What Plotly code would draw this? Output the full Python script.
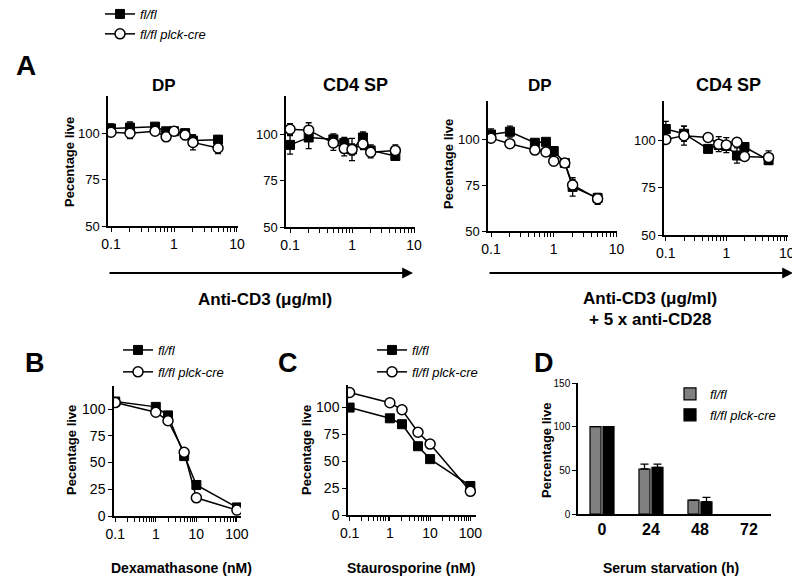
import plotly.graph_objects as go

W, H = 800, 576
FONT = "Liberation Sans, Arial, Helvetica, sans-serif"

# ---------------- data ----------------
a_dose = [0.1, 0.2, 0.5, 0.75, 1, 1.5, 2, 5]

a1_flfl = [102.5, 103, 103.5, 101, 101, 100, 96, 96.5]
a1_flfl_err = [2.5, 3, 1.5, 2, 1.5, 2, 3, 2]
a1_cre = [100.5, 100, 101, 98, 101, 99, 95, 92]
a1_cre_err = [1.5, 3, 1.5, 1.5, 1.5, 2.5, 4, 3]

a2_flfl = [94.5, 98.5, 97.5, 95.5, 92, 98.5, 91.5, 88.5]
a2_flfl_err = [5, 6, 3, 3, 3, 3, 3, 2]
a2_cre = [103, 102.5, 95.5, 92.5, 92, 95, 90.5, 91.5]
a2_cre_err = [3, 4, 4, 4, 6, 3, 3, 3]

a3_flfl = [102.5, 104, 98, 98.5, 93.5, 87, 74, 68]
a3_flfl_err = [3, 3, 1, 1, 1, 1, 5, 2]
a3_cre = [100.5, 97.5, 94, 93, 88, 87, 75, 67.5]
a3_cre_err = [1, 1, 1, 1, 1, 1.5, 3, 3]

a4_flfl = [106, 103.5, 95.5, 97.5, 97, 92, 96.5, 89.5]
a4_flfl_err = [4, 4, 2, 2, 2, 4, 2, 2]
a4_cre = [100.5, 102.5, 101.5, 98, 97.5, 99, 91.5, 91]
a4_cre_err = [2, 5, 1, 4, 4, 1.5, 1, 3.5]

b_dose = [0.1, 1, 2, 5, 10, 100]
b_flfl = [107, 102, 94, 56, 29, 8]
b_flfl_err = [2, 2, 3, 2, 3, 1]
b_cre = [106, 97, 89, 59.5, 17, 5.5]
b_cre_err = [1, 1, 1, 2, 1, 1]

c_dose = [0.1, 1, 2, 5, 10, 100]
c_flfl = [100, 90, 84.5, 64, 52, 27]
c_cre = [114, 104.5, 98, 77, 66, 22]

d_hours = ["0", "24", "48", "72"]
d_flfl = [100, 51.5, 16, 0]
d_flfl_err = [None, 5.5, None, None]
d_cre = [100, 53.5, 14, 0]
d_cre_err = [None, 3.5, 5, None]

series_names = ["fl/fl", "fl/fl plck-cre"]

# ---------------- helpers ----------------
def dx(p0, p1):
    return [p0 / W, p1 / W]

def dy(top, bottom):
    return [1 - bottom / H, 1 - top / H]

def px(x):
    return x / W

def py(y):
    return 1 - y / H

fig = go.Figure()

def add_pair(xs, y1, e1, y2, e2, ax, legend=None, show=False):
    xa = "x" if ax == 1 else f"x{ax}"
    ya = "y" if ax == 1 else f"y{ax}"
    fig.add_trace(go.Scatter(
        x=xs, y=y1, xaxis=xa, yaxis=ya, mode="lines+markers",
        name=series_names[0], legend=legend or "legend", showlegend=show,
        legendgroup=f"g1_{ax}",
        line=dict(color="black", width=1.5),
        marker=dict(symbol="square", size=9, color="black",
                    line=dict(color="black", width=1)),
        error_y=dict(type="data", array=e1, visible=e1 is not None,
                     color="black", thickness=1.3, width=3),
    ))
    fig.add_trace(go.Scatter(
        x=xs, y=y2, xaxis=xa, yaxis=ya, mode="lines+markers",
        name=series_names[1], legend=legend or "legend", showlegend=show,
        legendgroup=f"g2_{ax}",
        line=dict(color="black", width=1.5),
        marker=dict(symbol="circle", size=10, color="white",
                    line=dict(color="black", width=1.5)),
        error_y=dict(type="data", array=e2, visible=e2 is not None,
                     color="black", thickness=1.3, width=3),
    ))

add_pair(a_dose, a1_flfl, a1_flfl_err, a1_cre, a1_cre_err, 1, "legend", True)
add_pair(a_dose, a2_flfl, a2_flfl_err, a2_cre, a2_cre_err, 2)
add_pair(a_dose, a3_flfl, a3_flfl_err, a3_cre, a3_cre_err, 3)
add_pair(a_dose, a4_flfl, a4_flfl_err, a4_cre, a4_cre_err, 4)
add_pair(b_dose, b_flfl, b_flfl_err, b_cre, b_cre_err, 5, "legend2", True)
add_pair(c_dose, c_flfl, None, c_cre, None, 6, "legend3", True)

def bar_trace(vals, errs, name, color, group):
    outline = [1.2 if v > 0 else 0 for v in vals]
    visible_vals = [v if v > 0 else None for v in vals]
    return go.Bar(
        x=d_hours, y=visible_vals, xaxis="x7", yaxis="y7", name=name,
        legend="legend4", legendgroup=group,
        marker=dict(color=color, line=dict(color="black", width=outline)),
        error_y=dict(type="data", array=errs,
                     arrayminus=[None if e is None else 0 for e in errs],
                     symmetric=False, color="black", thickness=1.3, width=4),
    )

fig.add_trace(bar_trace(d_flfl, d_flfl_err, series_names[0], "#808080", "d1"))
fig.add_trace(bar_trace(d_cre, d_cre_err, series_names[1], "black", "d2"))

# ---------------- axes ----------------
def log_ticks(top_exp):
    vals, texts = [], []
    for e in range(-1, top_exp + 1):
        for k in range(1, 10):
            if e == top_exp and k > 1:
                break
            v = k * 10.0 ** e
            vals.append(v)
            if k == 1:
                texts.append("0.1" if e == -1 else str(int(round(v))))
            else:
                texts.append("")
    return vals, texts

def logx(dom, rng, anchor, top_exp):
    vals, texts = log_ticks(top_exp)
    return dict(
        domain=dom, type="log", range=rng, anchor=anchor,
        showline=True, linecolor="black", linewidth=1.5,
        ticks="outside", ticklen=4, tickwidth=1.2, tickcolor="black",
        tickmode="array", tickvals=vals, ticktext=texts,
        ticklabeloverflow="allow",
        tickfont=dict(family=FONT, size=14, color="black"),
        showgrid=False, zeroline=False,
    )

def liny(dom, rng, vals, anchor, size=13):
    return dict(
        domain=dom, range=rng, anchor=anchor,
        showline=True, linecolor="black", linewidth=1.5,
        ticks="outside", ticklen=4, tickwidth=1.3, tickcolor="black",
        tickvals=vals, tickfont=dict(family=FONT, size=size, color="black"),
        ticklabeloverflow="allow",
        showgrid=False, zeroline=False,
    )

log_panels = [
    # (axis id, x px range, log range, y px range, y range, y ticks, y font, top decade)
    (1, (100, 230), [-1.048, 1.016], (88, 218), [50, 120], [50, 75, 100], 13, 1),
    (2, (278, 407), [-1.065, 1.016], (88, 219), [50, 121], [50, 75, 100], 13, 1),
    (3, (480, 609), [-1.048, 1.008], (93, 223), [50, 120.7], [50, 75, 100], 13, 1),
    (4, (656, 780), [-1.03, 1.02], (93, 227), [50, 120.8], [50, 75, 100], 13, 1),
    (5, (106, 233), [-1.03, 2.1], (378, 508), [0, 121.5], [0, 25, 50, 75, 100], 14, 2),
    (6, (340, 468), [-1.04, 2.14], (377, 507), [0, 121], [0, 25, 50, 75, 100], 14, 2),
]

layout = {}
for i, xr, lr, yr, yrng, yt, yfs, dec in log_panels:
    xs = "" if i == 1 else str(i)
    layout[f"xaxis{xs}"] = logx(dx(*xr), lr, f"y{xs}", dec)
    layout[f"yaxis{xs}"] = liny(dy(*yr), yrng, yt, f"x{xs}", yfs)

layout["xaxis7"] = dict(domain=dx(570, 763), type="category", range=[-0.49, 3.45],
                        anchor="y7", showline=True, linecolor="black", linewidth=1.5,
                        ticks="", showgrid=False, zeroline=False,
                        tickfont=dict(family=FONT, size=16, color="black", weight="bold"))
layout["yaxis7"] = liny(dy(375, 506), [0, 150], [0, 50, 100, 150], "x7", 10)

leg_common = dict(
    bgcolor="rgba(0,0,0,0)", borderwidth=0, tracegroupgap=2,
    itemwidth=30, font=dict(family=FONT, size=13, color="black", style="italic"),
    xanchor="left", yanchor="top", itemclick=False,
)
layout["legend"] = dict(leg_common, x=px(92), y=py(-9), tracegroupgap=0)
layout["legend2"] = dict(leg_common, x=px(110), y=py(327))
layout["legend3"] = dict(leg_common, x=px(364), y=py(327))
layout["legend4"] = dict(leg_common, x=px(662), y=py(371), tracegroupgap=1)

# ---------------- annotations ----------------
ann = []

def text(x, y, s, size=13, bold=True, angle=0, italic=False):
    ann.append(dict(
        x=px(x), y=py(y), xref="paper", yref="paper", text=s, showarrow=False,
        xanchor="center", yanchor="middle", textangle=angle,
        font=dict(family=FONT, size=size, color="black",
                  weight="bold" if bold else "normal",
                  style="italic" if italic else "normal"),
    ))

text(18, 58, "A", 28)
text(27, 355, "B", 27)
text(280, 355, "C", 27)
text(536, 355, "D", 27)

text(156, 77, "DP", 17)
text(347, 77, "CD4 SP", 18)
text(532, 77, "DP", 17)
text(720, 77, "CD4 SP", 18)

text(61, 154, "Pecentage live", 13, angle=-90)
text(441, 156, "Pecentage live", 13, angle=-90)
text(63, 442, "Pecentage live", 13, angle=-90)
text(298, 442, "Pecentage live", 13, angle=-90)
text(538, 443, "Percentage live", 13, angle=-90)

text(257, 291, "Anti-CD3 (\u03bcg/ml)", 17)
text(642, 290, "Anti-CD3 (\u03bcg/ml)", 17)
text(642, 311, "+ 5 x anti-CD28", 17)

text(173, 560, "Dexamathasone (nM)", 14)
text(403, 560, "Staurosporine (nM)", 14)
text(663, 560, "Serum starvation (h)", 14)

# arrows
for x0, x1, yy in [(100, 405, 265), (480, 785, 265)]:
    ann.append(dict(
        x=px(x1), y=py(yy), ax=x0 - x1, ay=0, xref="paper", yref="paper",
        axref="pixel", ayref="pixel", showarrow=True, arrowhead=2,
        arrowsize=1.2, arrowwidth=1.8, arrowcolor="black", text="",
    ))

layout["annotations"] = ann

fig.update_layout(
    width=W, height=H,
    margin=dict(l=0, r=0, t=0, b=0, autoexpand=False),
    paper_bgcolor="white", plot_bgcolor="rgba(0,0,0,0)",
    barmode="group", bargap=0.47, bargroupgap=0.15,
    font=dict(family=FONT, color="black"),
    **layout,
)

fig.write_html("out.html")
